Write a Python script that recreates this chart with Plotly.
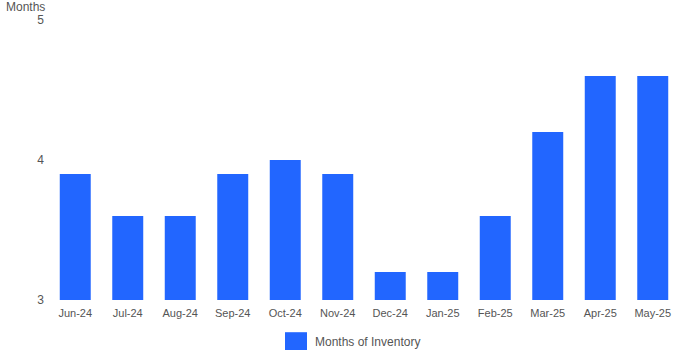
import plotly.graph_objects as go

categories = ["Jun-24", "Jul-24", "Aug-24", "Sep-24", "Oct-24", "Nov-24",
              "Dec-24", "Jan-25", "Feb-25", "Mar-25", "Apr-25", "May-25"]
months_of_inventory = [3.9, 3.6, 3.6, 3.9, 4.0, 3.9, 3.2, 3.2, 3.6, 4.2, 4.6, 4.6]
y_ticks = [3, 4, 5]
series_name = "Months of Inventory"
y_title = "Months"

BAR_COLOR = "#2266FF"
TEXT_COLOR = "#555555"
FONT = "Liberation Sans, Arial, sans-serif"

fig = go.Figure()
fig.add_trace(go.Bar(
    x=categories,
    y=months_of_inventory,
    marker=dict(color=BAR_COLOR, line=dict(width=0)),
    name=series_name,
    showlegend=False,
))

fig.update_layout(
    width=700, height=350,
    margin=dict(l=49, r=21, t=20, b=50),
    paper_bgcolor="white", plot_bgcolor="white",
    bargap=0.41,
    font=dict(family=FONT, size=11, color=TEXT_COLOR),
    xaxis=dict(showgrid=False, zeroline=False, showline=False, ticks="",
               ticklabelstandoff=5,
               tickfont=dict(size=11, color=TEXT_COLOR)),
    yaxis=dict(range=[3, 5], tickvals=y_ticks, showgrid=False, zeroline=False,
               showline=False, ticks="", ticklabelstandoff=4,
               tickfont=dict(size=12, color=TEXT_COLOR)),
    shapes=[dict(type="rect", xref="paper", yref="paper",
                 x0=0.3746, x1=0.4095, y0=-0.179, y1=-0.115,
                 fillcolor=BAR_COLOR, line=dict(width=0))],
    annotations=[
        dict(text=y_title, xref="paper", yref="paper", x=-0.003, y=1.046,
             xanchor="right", yanchor="middle", showarrow=False,
             font=dict(size=12, color=TEXT_COLOR)),
        dict(text=series_name, xref="paper", yref="paper", x=0.419, y=-0.15,
             xanchor="left", yanchor="middle", showarrow=False,
             font=dict(size=12, color=TEXT_COLOR)),
    ],
)

fig.write_html("out.html")
